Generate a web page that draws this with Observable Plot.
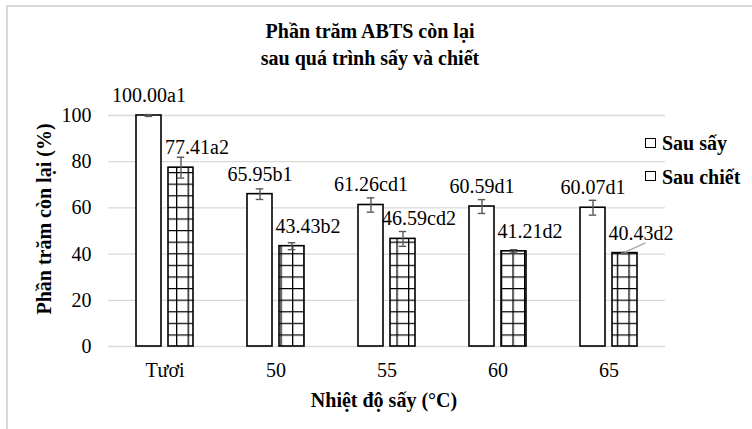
<!DOCTYPE html>
<html>
<head>
<meta charset="utf-8">
<script src="https://cdn.jsdelivr.net/npm/d3@7"></script>
<script src="https://cdn.jsdelivr.net/npm/@observablehq/plot@0.6"></script>
<style>
  html, body { margin: 0; padding: 0; background: #fff; overflow: hidden; }
  #wrap { position: relative; width: 752px; height: 429px; overflow: hidden; font-family: "Liberation Serif", "Times New Roman", serif; color: #000; }
  #chart { position: absolute; left: 0; top: 0; }
  #chart svg, #chart svg text { font-family: "Liberation Serif", "Times New Roman", serif !important; }
  .frame { position: absolute; left: 6px; top: 5px; width: 900px; height: 600px; border-top: 2px solid #d9d9d9; border-left: 2px solid #d9d9d9; }
  .t { position: absolute; font-weight: bold; font-size: 20px; line-height: 20px; white-space: nowrap; }
  .c { transform: translateX(-50%); }
  .sq { position: absolute; width: 9px; height: 8px; border: 1.5px solid #000; background: #fff; }
</style>
</head>
<body>
<div id="wrap">
  <div id="chart"></div>
  <div class="frame"></div>
  <div class="t c" id="title1" style="left:370px; top:21px;"></div>
  <div class="t c" id="title2" style="left:370px; top:48px;"></div>
  <div class="t" id="ytitle" style="left:44px; top:219px; transform: translate(-50%,-50%) rotate(-90deg);"></div>
  <div class="t c" id="xtitle" style="left:384px; top:390px;"></div>
  <div class="sq" style="left:645px; top:138px;"></div>
  <div class="t" id="leg1" style="left:662px; top:132.5px;"></div>
  <div class="sq" style="left:645px; top:171px;"></div>
  <div class="t" id="leg2" style="left:662px; top:166.5px;"></div>
</div>
<script>
// ---- data ----
const categories = ["Tươi", "50", "55", "60", "65"];
const seriesNames = ["Sau sấy", "Sau chiết"];
const sauSay   = [100.00, 65.95, 61.26, 60.59, 60.07];
const sauChiet = [77.41, 43.43, 46.59, 41.21, 40.43];
const errSay   = [0.4, 2.3, 3.1, 3.0, 3.2];
const errChiet = [4.5, 1.5, 3.2, 0.7, 0.3];
const lettersSay   = ["a1", "b1", "cd1", "d1", "d1"];
const lettersChiet = ["a2", "b2", "cd2", "d2", "d2"];
const yTicks = [0, 20, 40, 60, 80, 100];
const titleLines = ["Phần trăm ABTS còn lại", "sau quá trình sấy và chiết"];
const yTitle = "Phần trăm còn lại (%)";
const xTitle = "Nhiệt độ sấy (°C)";

document.getElementById("title1").textContent = titleLines[0];
document.getElementById("title2").textContent = titleLines[1];
document.getElementById("ytitle").textContent = yTitle;
document.getElementById("xtitle").textContent = xTitle;
document.getElementById("leg1").textContent = seriesNames[0];
document.getElementById("leg2").textContent = seriesNames[1];

const rows = categories.map((c, i) => ({
  cat: c,
  say: sauSay[i], chiet: sauChiet[i],
  eS: errSay[i], eC: errChiet[i],
  lS: sauSay[i].toFixed(2) + lettersSay[i],
  lC: sauChiet[i].toFixed(2) + lettersChiet[i]
}));
const leader = rows.slice(4);

const errColor = "#595959";
const capInset = 8.75;
const serif = "Liberation Serif";

const plot = Plot.plot({
  width: 752,
  height: 429,
  marginTop: 115,
  marginBottom: 83,
  marginLeft: 108,
  marginRight: 87,
  style: { fontFamily: serif, fontSize: "20px", background: "transparent", color: "#000" },
  x: { domain: categories, paddingInner: 0.7756, paddingOuter: 0.3878, label: null, tickSize: 0, tickPadding: 16 },
  y: { domain: [0, 100], ticks: yTicks, label: null, tickSize: 0, tickPadding: 17 },
  marks: [
    Plot.gridY(yTicks, { stroke: "#d9d9d9", strokeOpacity: 1, strokeWidth: 1.3 }),
    Plot.barY(rows, { x: "cat", y: "say", dx: -16, fill: "white", stroke: "black", strokeWidth: 1.6 }),
    Plot.barY(rows, { x: "cat", y: "chiet", dx: 16, fill: "url(#gridHatch)", stroke: "black", strokeWidth: 1.6 }),
    Plot.ruleX(rows, { x: "cat", y1: d => d.say - d.eS, y2: d => d.say + d.eS, dx: -16, stroke: errColor, strokeWidth: 1.4 }),
    Plot.tickY(rows, { x: "cat", y: d => d.say + d.eS, dx: -16, insetLeft: capInset, insetRight: capInset, stroke: errColor, strokeWidth: 1.4 }),
    Plot.tickY(rows, { x: "cat", y: d => d.say - d.eS, dx: -16, insetLeft: capInset, insetRight: capInset, stroke: errColor, strokeWidth: 1.4 }),
    Plot.ruleX(rows, { x: "cat", y1: d => d.chiet - d.eC, y2: d => d.chiet + d.eC, dx: 16, stroke: errColor, strokeWidth: 1.4 }),
    Plot.tickY(rows, { x: "cat", y: d => d.chiet + d.eC, dx: 16, insetLeft: capInset, insetRight: capInset, stroke: errColor, strokeWidth: 1.4 }),
    Plot.tickY(rows, { x: "cat", y: d => d.chiet - d.eC, dx: 16, insetLeft: capInset, insetRight: capInset, stroke: errColor, strokeWidth: 1.4 }),
    Plot.vector(leader, { x: "cat", y: "chiet", dx: 16, dy: -1, length: 22, rotate: 66, anchor: "start", stroke: "#a6a6a6", strokeWidth: 1.3,
      shape: { draw(context, l) { context.moveTo(0, 0); context.lineTo(0, -l); } } }),
    Plot.text(rows, { x: "cat", y: "say", text: "lS", dx: -16, dy: -20, fontSize: 20, fontFamily: serif, fill: "black" }),
    Plot.text(rows, { x: "cat", y: "chiet", text: "lC", dx: 32, dy: -20, fontSize: 20, fontFamily: serif, fill: "black" })
  ]
});

// hatch pattern (grid) for the "Sau chiết" bars
const ns = "http://www.w3.org/2000/svg";
const svg = plot.tagName.toLowerCase() === "svg" ? plot : plot.querySelector("svg");
svg.setAttribute("font-family", serif);
const defs = document.createElementNS(ns, "defs");
const pat = document.createElementNS(ns, "pattern");
pat.setAttribute("id", "gridHatch");
pat.setAttribute("patternUnits", "userSpaceOnUse");
pat.setAttribute("width", "11.6");
pat.setAttribute("height", "11.6");
pat.setAttribute("x", "624");
pat.setAttribute("y", "346");
const bg = document.createElementNS(ns, "rect");
bg.setAttribute("width", "11.6"); bg.setAttribute("height", "11.6"); bg.setAttribute("fill", "white");
const p = document.createElementNS(ns, "path");
p.setAttribute("d", "M0 0H11.6M0 0V11.6");
p.setAttribute("stroke", "black");
p.setAttribute("stroke-width", "2.6");
p.setAttribute("fill", "none");
pat.appendChild(bg); pat.appendChild(p);
defs.appendChild(pat);
svg.insertBefore(defs, svg.firstChild);

document.getElementById("chart").appendChild(plot);
</script>
</body>
</html>
